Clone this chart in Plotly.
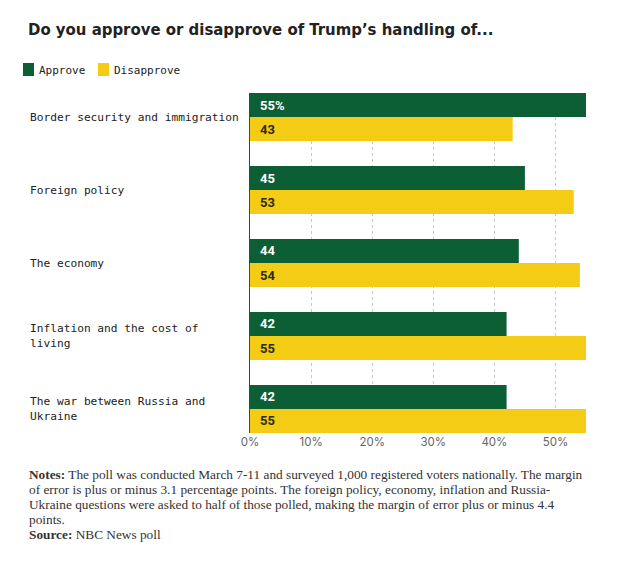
import plotly.graph_objects as go

categories = [
    "Border security and immigration",
    "Foreign policy",
    "The economy",
    "Inflation and the cost of<br>living",
    "The war between Russia and<br>Ukraine",
]
approve = [55, 45, 44, 42, 42]
disapprove = [43, 53, 54, 55, 55]
approve_text = ["55%", "45", "44", "42", "42"]
disapprove_text = ["43", "53", "54", "55", "55"]
x_ticks = [0, 10, 20, 30, 40, 50]
x_tick_text = ["0%", "10%", "20%", "30%", "40%", "50%"]

title = "Do you approve or disapprove of Trump\u2019s handling of..."
notes_lines = [
    "<b>Notes:</b> The poll was conducted March 7-11 and surveyed 1,000 registered voters nationally. The margin",
    "of error is plus or minus 3.1 percentage points. The foreign policy, economy, inflation and Russia-",
    "Ukraine questions were asked to half of those polled, making the margin of error plus or minus 4.4",
    "points.",
    "<b>Source:</b> NBC News poll",
]

GREEN = "#0c5e35"
YELLOW = "#f4cc16"
W, H = 618, 568
L, R, T, B = 250, 32, 93, 135
PW, PH = W - L - R, H - T - B


def px(x):
    return (x - L) / PW


def py(y):
    return (H - B - y) / PH


MONO = "DejaVu Sans Mono, Liberation Mono, monospace"
NUM = "Roboto, Liberation Sans, sans-serif"
SERIF = "Liberation Serif, DejaVu Serif, serif"

gap = 0.342
bar_w = (1 - gap) / 2

fig = go.Figure()
fig.add_trace(go.Bar(
    y=categories, x=approve, orientation="h", name="Approve",
    marker=dict(color=GREEN, line=dict(width=0)), hoverinfo="skip",
))
fig.add_trace(go.Bar(
    y=categories, x=disapprove, orientation="h", name="Disapprove",
    marker=dict(color=YELLOW, line=dict(width=0)), hoverinfo="skip",
))

annotations = []
for i, c in enumerate(categories):
    annotations.append(dict(
        x=px(28), xref="paper", y=i, yref="y", text=c, showarrow=False,
        xanchor="left", yanchor="middle", align="left",
        font=dict(family=MONO, size=11.2, color="#222"),
    ))
    for off, txt, col in [(-bar_w / 2, approve_text[i], "white"),
                          (bar_w / 2, disapprove_text[i], "#2e2a14")]:
        annotations.append(dict(
            x=0, xref="x", y=i + off, yref="y", text="<b>" + txt + "</b>",
            showarrow=False, xanchor="left", yanchor="middle", xshift=8,
            font=dict(family=NUM, size=13, color=col),
        ))

# legend
shapes = []
for (x0, color, label) in [(23, GREEN, "Approve"), (98, YELLOW, "Disapprove")]:
    shapes.append(dict(type="rect", xref="paper", yref="paper",
                       x0=px(x0), x1=px(x0 + 11), y0=py(76), y1=py(63),
                       fillcolor=color, line=dict(width=0)))
    annotations.append(dict(
        x=px(x0 + 14), xref="paper", y=py(70), yref="paper", text=label,
        showarrow=False, xanchor="left", yanchor="middle",
        font=dict(family=MONO, size=11, color="#222"),
    ))

# title
annotations.append(dict(
    x=px(26), xref="paper", y=py(29), yref="paper", text="<b>" + title + "</b>",
    showarrow=False, xanchor="left", yanchor="middle",
    font=dict(family="DejaVu Sans Condensed, Liberation Sans Narrow, Roboto", size=16.6, color="#222"),
))

# notes
for i, line in enumerate(notes_lines):
    annotations.append(dict(
        x=px(27), xref="paper", y=py(474 + i * 15), yref="paper", text=line,
        showarrow=False, xanchor="left", yanchor="middle", align="left",
        font=dict(family=SERIF, size=13.3, color="#333"),
    ))

fig.update_layout(
    width=W, height=H,
    margin=dict(l=L, r=R, t=T, b=B, pad=0),
    paper_bgcolor="white", plot_bgcolor="white",
    barmode="group", bargap=gap, bargroupgap=0,
    showlegend=False,
    annotations=annotations, shapes=shapes,
    xaxis=dict(
        range=[0, 55], tickvals=x_ticks, ticktext=x_tick_text,
        showgrid=True, gridcolor="#c8c8c8", griddash="3px,3px", gridwidth=1,
        zeroline=False, showline=False, ticks="",
        tickfont=dict(family="Inter, Roboto, sans-serif", size=11.5, color="#666"),
        fixedrange=True,
    ),
    yaxis=dict(
        type="category", categoryorder="array", categoryarray=categories,
        range=[len(categories) - 0.5 - gap / 2, -0.5 + gap / 2],
        showticklabels=False, showgrid=False, zeroline=False,
        showline=True, linecolor="#444", linewidth=1, ticks="",
        fixedrange=True,
    ),
)

fig.write_html("out.html")
